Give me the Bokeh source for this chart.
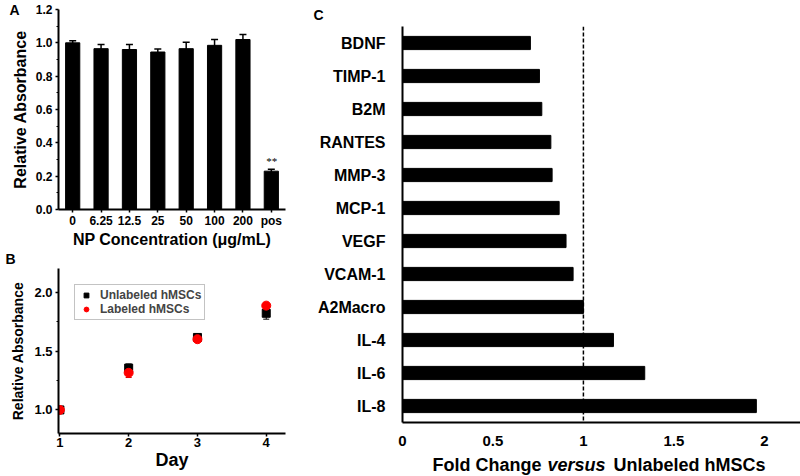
from bokeh.plotting import figure
from bokeh.models import (ColumnDataSource, Whisker, TeeHead, Span, Title, Range1d,
                          FactorRange, Legend, LegendItem, FixedTicker, NumeralTickFormatter)
from bokeh.layouts import row, column
from bokeh.embed import file_html
from bokeh.resources import INLINE

FONT = "Liberation Sans"

# ---------------- data ----------------
# Panel A
conc_labels = ["0", "6.25", "12.5", "25", "50", "100", "200", "pos"]
rel_abs = [1.00, 0.965, 0.96, 0.945, 0.965, 0.985, 1.02, 0.23]
rel_err = [0.012, 0.025, 0.03, 0.018, 0.038, 0.035, 0.03, 0.012]
a_yticks = [0.0, 0.2, 0.4, 0.6, 0.8, 1.0, 1.2]

# Panel B
days = [1, 2, 3, 4]
unlab = [1.0, 1.355, 1.615, 1.82]
unlab_err = [0.01, 0.035, 0.03, 0.05]
lab = [1.0, 1.315, 1.60, 1.885]
lab_err = [0.01, 0.04, 0.025, 0.02]
b_yticks = [1.0, 1.5, 2.0]

# Panel C
genes = ["BDNF", "TIMP-1", "B2M", "RANTES", "MMP-3", "MCP-1", "VEGF",
         "VCAM-1", "A2Macro", "IL-4", "IL-6", "IL-8"]
fold = [0.707, 0.757, 0.77, 0.82, 0.827, 0.866, 0.904, 0.943, 1.0, 1.166, 1.339, 1.956]
c_xticks = [0, 0.5, 1, 1.5, 2]
c_xtick_labels = {0: "0", 0.5: "0.5", 1: "1", 1.5: "1.5", 2: "2"}
c_xlabel_parts = [("Fold Change", "bold"), ("versus", "bold italic"), ("Unlabeled hMSCs", "bold")]


def style_axis(ax, tick_size, label_size):
    ax.axis_line_width = 2
    ax.axis_line_color = "black"
    ax.major_tick_line_width = 1.5
    ax.major_tick_line_color = "black"
    ax.major_tick_in = 0
    ax.major_tick_out = 3
    ax.minor_tick_line_width = 1.2
    ax.minor_tick_line_color = "black"
    ax.minor_tick_in = 0
    ax.minor_tick_out = 2
    ax.major_label_text_font = FONT
    ax.major_label_text_font_style = "bold"
    ax.major_label_text_font_size = tick_size
    ax.major_label_text_color = "black"
    ax.axis_label_text_font = FONT
    ax.axis_label_text_font_style = "bold"
    ax.axis_label_text_font_size = label_size
    ax.axis_label_text_color = "black"


def base(p):
    p.outline_line_color = None
    p.xgrid.visible = False
    p.ygrid.visible = False
    p.background_fill_color = "white"
    p.border_fill_color = "white"


def letter(p, txt, offset, standoff, valign="bottom"):
    p.add_layout(Title(text=txt, align="left", offset=offset, standoff=standoff,
                       vertical_align=valign, text_font=FONT, text_font_style="bold",
                       text_font_size="14px", text_color="black"), "above")


# ---------------- Panel A ----------------
srcA = ColumnDataSource(dict(x=conc_labels, top=rel_abs,
                             upper=[v + e for v, e in zip(rel_abs, rel_err)],
                             lower=[v - e for v, e in zip(rel_abs, rel_err)]))
pA = figure(width=296, height=250, x_range=FactorRange(*conc_labels),
            y_range=Range1d(0, 1.2), output_backend="svg", toolbar_location=None,
            min_border_left=54, min_border_right=6, min_border_top=9, min_border_bottom=38)
base(pA)
pA.vbar(x="x", top="top", width=0.5, source=srcA, color="black")
pA.add_layout(Whisker(base="x", upper="upper", lower="lower", source=srcA,
                      line_color="black", line_width=1.5,
                      upper_head=TeeHead(size=7, line_width=1.5, line_color="black"),
                      lower_head=None))
pA.text(x=[conc_labels[-1]], y=[rel_abs[-1] + rel_err[-1] + 0.015], text=["**"],
        text_align="center", text_baseline="bottom", text_font=FONT,
        text_font_size="11px", text_font_style="italic", text_color="black")
pA.yaxis.ticker = FixedTicker(ticks=a_yticks, minor_ticks=[0.1, 0.3, 0.5, 0.7, 0.9, 1.1])
pA.yaxis.formatter = NumeralTickFormatter(format="0.0")
style_axis(pA.xaxis[0], "12px", "16px")
style_axis(pA.yaxis[0], "12px", "16px")
pA.xaxis.axis_label = "NP Concentration (\u03bcg/mL)"
pA.yaxis.axis_label = "Relative Absorbance"
pA.xaxis.major_label_standoff = 1
pA.xaxis.axis_label_standoff = 0
pA.yaxis.major_label_standoff = 3
pA.yaxis.axis_label_standoff = 4
letter(pA, "A", -49, -17)

# ---------------- Panel B ----------------
srcU = ColumnDataSource(dict(x=days, y=unlab,
                             upper=[v + e for v, e in zip(unlab, unlab_err)],
                             lower=[v - e for v, e in zip(unlab, unlab_err)]))
srcL = ColumnDataSource(dict(x=days, y=lab,
                             upper=[v + e for v, e in zip(lab, lab_err)],
                             lower=[v - e for v, e in zip(lab, lab_err)]))
pB = figure(width=296, height=226, x_range=Range1d(0.98, 4.28), y_range=Range1d(0.8, 2.2),
            output_backend="svg", toolbar_location=None,
            min_border_left=58, min_border_right=11, min_border_top=18, min_border_bottom=43)
base(pB)
pB.add_layout(Whisker(base="x", upper="upper", lower="lower", source=srcU,
                      line_color="black", line_width=1,
                      upper_head=TeeHead(size=6, line_width=1, line_color="black"),
                      lower_head=TeeHead(size=6, line_width=1, line_color="black")))
rU = pB.scatter(x="x", y="y", source=srcU, marker="square", size=8, color="black")
pB.add_layout(Whisker(base="x", upper="upper", lower="lower", source=srcL,
                      line_color="#cc0000", line_width=1,
                      upper_head=TeeHead(size=6, line_width=1, line_color="#cc0000"),
                      lower_head=TeeHead(size=6, line_width=1, line_color="#cc0000")))
rL = pB.scatter(x="x", y="y", source=srcL, marker="circle", size=9, color="#ff0000")
pB.xaxis.ticker = FixedTicker(ticks=days, minor_ticks=[])
pB.yaxis.ticker = FixedTicker(ticks=b_yticks, minor_ticks=[1.25, 1.75])
pB.yaxis.formatter = NumeralTickFormatter(format="0.0")
style_axis(pB.xaxis[0], "13px", "18px")
style_axis(pB.yaxis[0], "13px", "14px")
pB.xaxis.axis_label = "Day"
pB.yaxis.axis_label = "Relative Absorbance"
pB.xaxis.major_label_standoff = 1
pB.xaxis.axis_label_standoff = 0
pB.yaxis.major_label_standoff = 3
pB.yaxis.axis_label_standoff = 5
leg = Legend(items=[LegendItem(label="Unlabeled hMSCs", renderers=[rU]),
                    LegendItem(label="Labeled hMSCs", renderers=[rL])],
             location="top_left", margin=16, padding=3, spacing=0,
             label_text_font=FONT, label_text_font_style="bold",
             label_text_font_size="12px", label_height=12, glyph_height=12,
             glyph_width=16, label_standoff=6,
             border_line_color="#888888", border_line_width=1,
             background_fill_alpha=1)
pB.add_layout(leg)
letter(pB, "B", -53, 0, "top")

# ---------------- Panel C ----------------
factors_c = list(reversed(genes))
srcC = ColumnDataSource(dict(y=genes, right=fold))
pC = figure(width=504, height=476, y_range=FactorRange(*factors_c),
            x_range=Range1d(0, 2.2), output_backend="svg", toolbar_location=None,
            min_border_left=106, min_border_right=0, min_border_top=26, min_border_bottom=54)
base(pC)
pC.hbar(y="y", right="right", left=0, height=0.4, source=srcC, color="black")
pC.add_layout(Span(location=1, dimension="height", line_color="black",
                   line_width=1.5, line_dash="4 2"))
pC.xaxis.ticker = FixedTicker(ticks=c_xticks, minor_ticks=[])
pC.xaxis.major_label_overrides = c_xtick_labels
style_axis(pC.xaxis[0], "15px", "11px")
style_axis(pC.yaxis[0], "16px", "16px")
pC.xaxis.major_tick_line_color = None
pC.yaxis.major_tick_line_color = None
pC.xaxis.major_label_standoff = 10
pC.yaxis.major_label_standoff = 14
pC.xaxis.axis_label = " "
pC.xaxis.axis_label_standoff = 0
# x-axis title in three parts (italic "versus"), zero-height titles on one line
for (txt, style), off in zip(c_xlabel_parts, [30, 145, 211]):
    pC.add_layout(Title(text=txt, align="left", offset=off, standoff=-22.5,
                        vertical_align="bottom", text_font=FONT, text_font_style=style,
                        text_font_size="18px", text_color="black"), "below")
letter(pC, "C", -89, 8)

layout = row(column(pA, pB), pC)
open("out.html", "w").write(file_html(layout, INLINE))
